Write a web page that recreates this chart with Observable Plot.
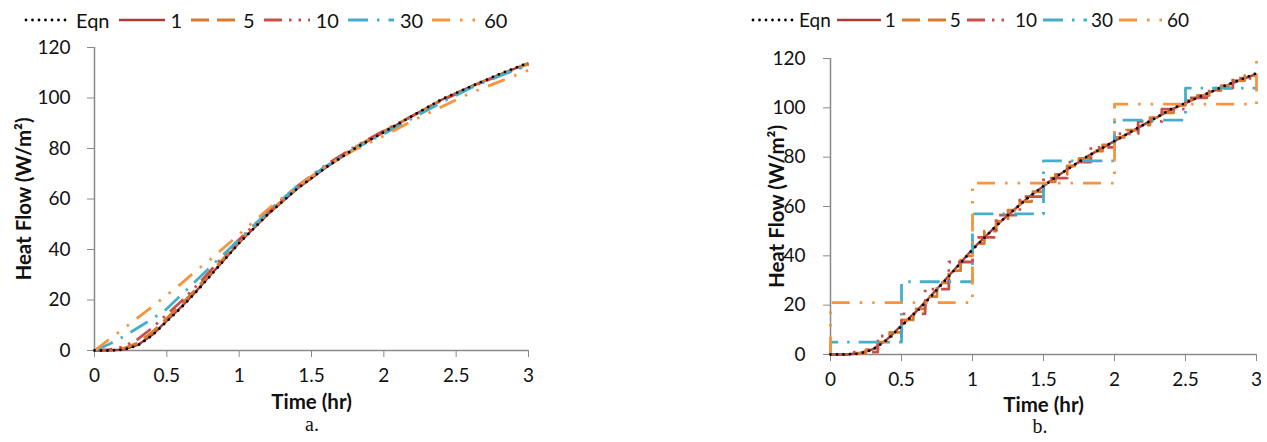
<!DOCTYPE html>
<html><head><meta charset="utf-8">
<script src="https://cdn.jsdelivr.net/npm/d3@7"></script>
<script src="https://cdn.jsdelivr.net/npm/@observablehq/plot@0.6"></script>
<style>
html,body{margin:0;padding:0;background:#fff;}
body{width:1267px;height:442px;position:relative;overflow:hidden;font-family:Lato,"Open Sans",sans-serif;}
.panel{position:absolute;top:0;}
.legend{position:absolute;display:flex;align-items:center;color:#111;white-space:nowrap;line-height:24px;}
.legend svg{display:block;}
.cap{position:absolute;font-family:"Liberation Serif",serif;font-size:20px;line-height:20px;color:#111;transform:translateX(-50%);}
.panel g[aria-label="x-axis label"] text,.panel g[aria-label="y-axis label"] text{font-weight:bold;font-size:20.5px;}
</style></head><body>
<div id="legA" class="legend" style="left:24px;top:8px;font-size:20px"></div>
<div id="legB" class="legend" style="left:751px;top:8px;font-size:19px"></div>
<div id="plotA" class="panel" style="left:0px"></div>
<div id="plotB" class="panel" style="left:680px"></div>
<div class="cap" style="left:312px;top:414px">a.</div>
<div class="cap" style="left:1040px;top:416px">b.</div>
<script>
// ---- data ----
const seriesNames = ["Eqn", "1", "5", "10", "30", "60"];
const xTicks = [0, 0.5, 1, 1.5, 2, 2.5, 3];
const yTicks = [0, 20, 40, 60, 80, 100, 120];

// chart a: time (hr) and heat flow (W/m2)
const aTime = [0,0.1,0.2,0.3,0.4,0.5,0.6,0.7,0.8,0.9,1.0,1.2,1.4,1.6,1.8,2.0,2.2,2.4,2.6,2.8,3.0];
const aEqn  = [0,0,0.3,2,6,11.5,17,23,29.5,36,42.5,54,64,72.5,80,86.5,93,99.5,104.5,109.5,114];
const a1    = [0,0,0.4,2.2,6.2,11.8,17.3,23.3,29.8,36.2,42.7,54,64,72.5,80,86.5,93,99.3,104.5,109.3,113.8];
const a5    = [0,0.1,0.8,3,7.3,12.8,18.3,24.3,30.5,37,43.3,54.5,64.5,73,80.5,86.8,93,99.2,104.5,109.2,113.5];
const a10   = [0,0.3,1.5,4.5,9,14.3,19.5,25.3,31.5,38,44,55,65,73.5,80.7,87,93,99,104.3,109,113.3];
const a30   = [0,2.5,5.5,9,12.5,16.5,22,27.5,33,38.5,44,55,65,73,80,85.8,92,98.3,104,108.7,113];
const a60   = [0,4.3,8.6,13,17.4,22,26.5,31.5,36,41,46,56,65,73,79.5,85,91,96.5,102,106.5,111];

// chart b: step series, time in minutes
const b5Min = [0,5,10,15,20,25,30,35,40,45,50,55,60,65,70,75,80,85,90,95,100,105,110,115,120,125,130,135,140,145,150,155,160,165,170,175,180];
const b5Val = [0,0,0.5,2,5,9,14,18.5,23.5,29,34,40,45,50,54,58.5,62,66,70,73,76.5,79.5,82.5,85,88,91,93,96,98,101,103,105,107,109,111,113,113];
const b10Min = [0,10,20,30,40,50,60,70,80,90,100,110,120,130,140,150,160,170,180];
const b10Val = [0,1,7.5,16.5,26.5,37.5,47.5,56.5,64,71.5,78,84,89.5,94.5,99.5,104,108,112,112];
const b30Min = [0,0,30,60,90,120,150,180];
const b30Val = [0,5,29.5,57,78.5,95,108,108];
const b60Min = [0,0,60,120,180];
const b60Val = [0,21,69.5,101.5,120];

// ---- styles ----
const style = {
  "Eqn": {stroke: "#000000", dash: "0 6.5", width: 2.8, cap: "round"},
  "1":   {stroke: "#A83C36", dash: null, width: 2.4, cap: "butt"},
  "5":   {stroke: "#D97A2C", dash: "18 8", width: 2.8, cap: "butt"},
  "10":  {stroke: "#C8504A", dash: "18 7 2.5 7 2.5 7", width: 2.8, cap: "butt"},
  "30":  {stroke: "#45AECB", dash: "20 9 2.5 9", width: 2.8, cap: "butt"},
  "60":  {stroke: "#F7943E", dash: "18 10 2.5 10 2.5 10", width: 2.8, cap: "butt"}
};

function rows(xs, ys, scale) { return xs.map((x, i) => ({t: x * scale, v: ys[i]})); }

function lineMark(name, data, curve) {
  const s = style[name];
  const o = {x: "t", y: "v", stroke: s.stroke, strokeWidth: s.width, strokeLinecap: s.cap, curve};
  if (s.dash) o.strokeDasharray = s.dash;
  return Plot.line(data, o);
}

function legend(el, sw, gapL, gapR) {
  const root = document.getElementById(el);
  for (const n of seriesNames) {
    const s = style[n];
    const svg = document.createElementNS("http://www.w3.org/2000/svg", "svg");
    svg.setAttribute("width", sw); svg.setAttribute("height", 10);
    const ln = document.createElementNS("http://www.w3.org/2000/svg", "line");
    ln.setAttribute("x1", n === "Eqn" ? 2 : 0); ln.setAttribute("x2", sw); ln.setAttribute("y1", 5); ln.setAttribute("y2", 5);
    ln.setAttribute("stroke", s.stroke); ln.setAttribute("stroke-width", s.width);
    ln.setAttribute("stroke-linecap", s.cap);
    if (s.dash) ln.setAttribute("stroke-dasharray", s.dash);
    svg.appendChild(ln);
    root.appendChild(svg);
    const sp = document.createElement("span");
    sp.textContent = n;
    sp.style.margin = `0 ${gapR}px 0 ${gapL}px`;
    root.appendChild(sp);
  }
}

function makePlot(cfg, marks) {
  return Plot.plot({
    width: cfg.width, height: 442,
    marginLeft: cfg.ml, marginRight: cfg.mr, marginTop: cfg.mt, marginBottom: cfg.mb,
    style: {fontFamily: "Lato, 'Open Sans', sans-serif", fontSize: "19px", color: "#111", background: "transparent", overflow: "visible"},
    x: {domain: [0, 3]},
    y: {domain: [0, 120]},
    marks: [
      Plot.ruleX([0], {stroke: "#8a8a8a", strokeWidth: 1.5}),
      Plot.ruleY([0], {stroke: "#8a8a8a", strokeWidth: 1.5}),
      Plot.axisX(xTicks, {tickSize: 7, tickPadding: 11, stroke: "#8a8a8a", fill: "#111", tickFormat: d => String(d),
        label: "Time (hr)", labelAnchor: "center", labelArrow: "none", labelOffset: cfg.xlo}),
      Plot.axisY(yTicks, {tickSize: 7, tickPadding: cfg.ytp, stroke: "#8a8a8a", fill: "#111", tickFormat: d => String(d),
        label: "Heat Flow (W/m²)", labelAnchor: "center", labelArrow: "none", labelOffset: cfg.ylo}),
      ...marks
    ]
  });
}

const aMarks = [
  lineMark("1", rows(aTime, a1, 1), "linear"),
  lineMark("5", rows(aTime, a5, 1), "linear"),
  lineMark("10", rows(aTime, a10, 1), "linear"),
  lineMark("30", rows(aTime, a30, 1), "linear"),
  lineMark("60", rows(aTime, a60, 1), "linear"),
  lineMark("Eqn", rows(aTime, aEqn, 1), "linear")
];
const bMarks = [
  lineMark("1", rows(aTime, a1, 1), "linear"),
  lineMark("5", rows(b5Min, b5Val, 1 / 60), "step-after"),
  lineMark("10", rows(b10Min, b10Val, 1 / 60), "step-after"),
  lineMark("30", rows(b30Min, b30Val, 1 / 60), "step-after"),
  lineMark("60", rows(b60Min, b60Val, 1 / 60), "step-after"),
  lineMark("Eqn", rows(aTime, aEqn, 1), "linear")
];

document.getElementById("plotA").appendChild(makePlot({width: 560, ml: 94, mr: 32, mt: 47, mb: 92, xlo: 58, ylo: 78, ytp: 17}, aMarks));
document.getElementById("plotB").appendChild(makePlot({width: 587, ml: 150, mr: 11, mt: 58, mb: 88, xlo: 57, ylo: 61, ytp: 18}, bMarks));
legend("legA", 46, 6, 9);
legend("legB", 44, 4, 6);
</script>
</body></html>
